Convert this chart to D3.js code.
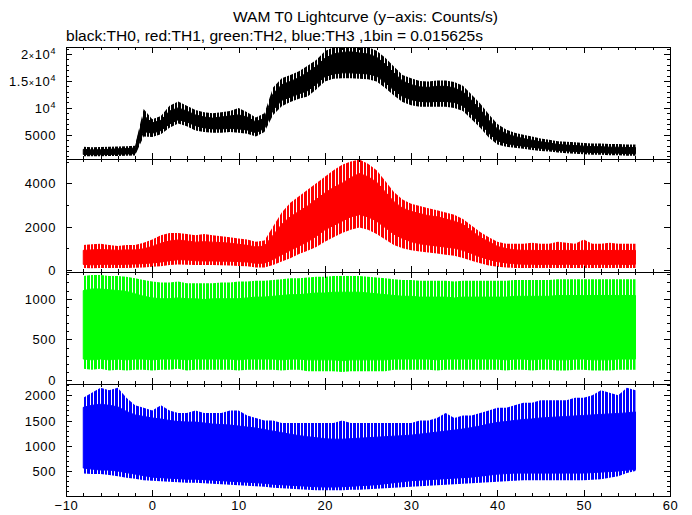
<!DOCTYPE html>
<html><head><meta charset="utf-8">
<script src="https://cdn.jsdelivr.net/npm/d3@7"></script>
<style>
body{margin:0;background:#fff;}
svg text{font-family:"Liberation Sans",Arial,Helvetica,sans-serif;fill:#000;}
</style>
</head><body>
<svg id="chart" width="692" height="515"></svg>
<script>
// ---- data: per-second envelopes of each light curve ----
// core = dense band, outer = extent reached by the noise spikes
const timeSec = [-8,-7,-6,-5,-4,-3,-2,-1,0,1,2,3,4,5,6,7,8,9,10,11,12,13,14,15,16,17,18,19,20,21,22,23,24,25,26,27,28,29,30,31,32,33,34,35,36,37,38,39,40,41,42,43,44,45,46,47,48,49,50,51,52,53,54,55,56];

const th0CoreLow  = [1350,1300,1300,1350,1400,1450,1500,5600,5300,5800,7000,7800,7400,6700,6300,6100,6100,6200,6100,5900,5400,6200,9600,11400,12000,12600,13200,14400,15800,16300,16500,16500,16400,16300,15900,14700,13300,12100,11500,11200,11100,11200,11200,11000,10400,8800,7200,5300,3900,3400,3100,2900,2700,2500,2300,2100,2000,1900,1800,1700,1700,1600,1600,1500,1500];
const th0CoreHigh = [2300,2200,2250,2300,2400,2450,2550,8600,7200,7700,9400,10000,9400,8700,8300,8100,8300,8500,8700,8300,7400,8100,12600,14300,14900,15600,16600,17700,19200,20000,20300,20400,20200,20000,19400,18100,16500,15000,14300,13900,13800,14000,14000,13700,13000,11400,9700,7700,6100,5200,4700,4300,4000,3700,3500,3200,3100,3000,2900,2800,2800,2700,2700,2650,2650];
const th0OuterLow  = [1000,1000,1000,1050,1050,1100,1150,4700,4600,5100,6300,7100,6600,5800,5500,5400,5400,5500,5400,5200,4700,5500,8700,10300,11100,11700,12100,13400,14900,15400,15500,15500,15400,15300,14900,13700,12300,11100,10500,10200,10200,10200,10200,10000,9400,7900,6300,4500,3200,2800,2600,2400,2200,2000,1900,1700,1600,1500,1400,1300,1300,1200,1200,1100,1100];
const th0OuterHigh = [2800,2700,2750,2800,2850,2900,2950,9800,7900,8500,10400,11200,10400,9600,9200,9000,9200,9400,10000,9200,8200,9000,13800,15500,16100,16800,17800,18900,20500,21300,21300,21300,21300,21300,20600,19300,17700,16100,15500,15000,14900,15100,15100,14800,14100,12500,10800,8800,7000,6000,5400,5000,4700,4300,4100,3800,3700,3600,3500,3400,3400,3300,3300,3200,3200];

const th1CoreLow  = [250,230,250,260,250,260,270,290,320,360,420,470,460,420,410,410,400,400,380,360,300,310,480,700,900,1100,1300,1550,1850,2050,2250,2450,2550,2450,2250,1950,1650,1450,1300,1200,1150,1100,1050,1000,900,750,600,480,380,320,280,260,260,250,260,250,260,250,260,250,260,250,260,250,260];
const th1CoreHigh = [900,920,940,920,900,920,920,970,1080,1230,1330,1380,1330,1280,1300,1280,1260,1230,1180,1130,1050,1100,1600,2100,2450,2700,2950,3250,3550,3800,4000,4250,4450,4300,4050,3600,3150,2850,2700,2600,2500,2450,2350,2250,2100,1800,1500,1300,1080,980,920,900,900,890,900,890,900,890,900,890,900,890,900,890,900];
const th1OuterLow  = [80,70,80,90,80,90,100,110,140,170,220,250,240,220,220,220,210,200,180,160,110,110,220,380,530,730,880,1050,1300,1500,1700,1850,1950,1850,1650,1400,1150,1000,900,850,800,750,700,650,550,420,300,200,140,110,90,80,80,80,80,80,80,80,80,80,80,80,80,80,80];
const th1OuterHigh = [1150,1180,1200,1150,1100,1150,1150,1250,1400,1600,1700,1700,1650,1600,1650,1600,1550,1500,1450,1400,1300,1350,2000,2650,3100,3400,3700,4000,4300,4600,4850,5000,5100,4900,4600,4100,3600,3250,3050,2950,2850,2750,2650,2550,2350,2050,1750,1500,1300,1200,1200,1200,1250,1200,1200,1300,1250,1200,1400,1200,1200,1250,1200,1200,1200];

const th2CoreLow  = [260,250,260,250,260,250,260,260,250,260,260,260,250,260,260,260,260,260,250,260,260,260,260,250,260,260,250,250,250,250,240,250,250,250,250,250,260,260,260,260,260,250,260,260,260,260,260,260,260,250,260,260,250,260,260,250,250,260,260,250,250,250,260,260,260];
const th2CoreHigh = [1100,1120,1120,1110,1100,1090,1060,1030,1010,1000,1000,1010,1000,1000,990,1000,1000,1000,1000,1010,1020,1020,1030,1040,1050,1050,1060,1070,1070,1080,1080,1080,1080,1070,1060,1050,1040,1030,1030,1020,1020,1020,1020,1010,1020,1020,1020,1020,1020,1020,1030,1030,1030,1030,1030,1040,1040,1040,1040,1040,1040,1040,1040,1040,1040];
const th2OuterLow  = [140,130,140,120,130,120,130,130,120,130,130,140,120,130,130,130,130,130,120,130,130,130,130,120,130,130,110,110,110,110,100,110,110,110,110,110,130,130,130,130,130,120,130,130,130,130,130,130,130,120,130,130,120,130,130,120,120,130,130,120,120,120,130,130,130];
const th2OuterHigh = [1280,1290,1290,1280,1280,1270,1250,1230,1210,1200,1200,1210,1190,1190,1190,1190,1200,1200,1210,1210,1220,1220,1230,1240,1250,1250,1260,1270,1270,1280,1280,1280,1280,1270,1260,1250,1240,1230,1230,1220,1220,1220,1220,1210,1220,1220,1220,1220,1220,1220,1230,1230,1230,1230,1230,1240,1240,1240,1240,1240,1240,1240,1240,1240,1240];

const th3CoreLow  = [560,540,520,520,500,470,440,410,380,370,360,350,340,340,330,320,310,300,290,280,270,260,240,230,220,210,200,190,185,185,190,200,210,220,230,250,270,290,310,320,330,340,350,360,370,380,400,420,440,450,460,460,460,460,460,460,460,460,460,470,480,490,500,520,530];
const th3CoreHigh = [1760,1800,1820,1800,1770,1680,1610,1580,1550,1530,1500,1480,1470,1470,1450,1430,1420,1410,1390,1370,1350,1320,1290,1260,1230,1200,1180,1160,1140,1130,1130,1140,1150,1160,1170,1180,1190,1200,1210,1230,1250,1270,1290,1310,1330,1360,1390,1430,1460,1480,1500,1520,1530,1550,1560,1570,1580,1590,1600,1610,1620,1630,1640,1650,1670];
const th3OuterLow  = [450,440,440,420,400,370,350,320,310,300,290,280,270,270,260,250,240,230,220,210,200,190,170,160,150,140,130,120,120,120,120,130,130,140,150,160,170,180,190,200,210,220,230,240,250,260,270,280,290,300,310,320,320,320,320,320,320,320,320,330,340,370,400,460,500];
const th3OuterHigh = [1950,2050,2150,2100,2150,1950,1800,1750,1700,1800,1700,1650,1650,1700,1650,1650,1650,1700,1700,1600,1550,1500,1500,1450,1450,1450,1450,1450,1450,1450,1500,1450,1450,1450,1450,1450,1450,1450,1450,1500,1500,1550,1650,1550,1600,1600,1650,1700,1750,1750,1800,1850,1850,1900,1900,1900,1900,1950,1950,2000,2100,2050,2000,2150,2100];

const xMajorTicks = [-10,0,10,20,30,40,50,60];
const xTickLabels = ["\u221210","0","10","20","30","40","50","60"];
const th0Ticks = [5000,10000,15000,20000];
const th0TickLabels = ["5000","10^4","1.5\u00d710^4","2\u00d710^4"];
const th1Ticks = [0,2000,4000];
const th1TickLabels = ["0","2000","4000"];
const th2Ticks = [0,500,1000];
const th2TickLabels = ["0","500","1000"];
const th3Ticks = [500,1000,1500,2000];
const th3TickLabels = ["500","1000","1500","2000"];

const titleText = "WAM T0 Lightcurve (y\u2212axis: Counts/s)";
const subtitleText = "black:TH0, red:TH1, green:TH2, blue:TH3 ,1bin = 0.015625s";

// ---- layout ----
const svg = d3.select("#chart");
const L = 66, R = 670;
const bounds = [47, 159, 272, 384, 496];

const x = d3.scaleLinear().domain([-10, 60]).range([L, R]);

const panels = [
  {cl: th0CoreLow, ch: th0CoreHigh, ol: th0OuterLow, oh: th0OuterHigh, color: "#000000", domain: [510, 21300], major: th0Ticks, labels: th0TickLabels, minorStep: 1000},
  {cl: th1CoreLow, ch: th1CoreHigh, ol: th1OuterLow, oh: th1OuterHigh, color: "#ff0000", domain: [-100, 5120], major: th1Ticks, labels: th1TickLabels, minorStep: 1000},
  {cl: th2CoreLow, ch: th2CoreHigh, ol: th2OuterLow, oh: th2OuterHigh, color: "#00ff00", domain: [-46, 1328], major: th2Ticks, labels: th2TickLabels, minorStep: 100},
  {cl: th3CoreLow, ch: th3CoreHigh, ol: th3OuterLow, oh: th3OuterHigh, color: "#0000ff", domain: [7, 2222], major: th3Ticks, labels: th3TickLabels, minorStep: 100}
];

const xMinor = [];
for (let v = -10; v <= 60; v += 2) if (v % 10 !== 0) xMinor.push(v);

const defs = svg.append("defs");

panels.forEach((p, i) => {
  const top = bounds[i], bot = bounds[i + 1];
  const y = d3.scaleLinear().domain(p.domain).range([bot, top]);
  const g = svg.append("g");

  defs.append("clipPath").attr("id", "clip" + i)
    .append("rect").attr("x", L).attr("y", top).attr("width", R - L).attr("height", bot - top);

  // dense vertical-stroke pattern for the ragged fringe of the noise band
  const pat = defs.append("pattern").attr("id", "spk" + i).attr("patternUnits", "userSpaceOnUse")
    .attr("width", 7).attr("height", 4);
  pat.append("rect").attr("x", 0).attr("y", 0).attr("width", 2).attr("height", 4).attr("fill", p.color);
  pat.append("rect").attr("x", 3).attr("y", 0).attr("width", 3).attr("height", 4).attr("fill", p.color);

  const pts = timeSec.map((t, k) => ({t, cl: p.cl[k], ch: p.ch[k], ol: p.ol[k], oh: p.oh[k]}));
  const outer = d3.area().x(d => x(d.t)).y0(d => y(d.ol)).y1(d => y(d.oh));
  const core = d3.area().x(d => x(d.t)).y0(d => y(d.cl)).y1(d => y(d.ch));
  const dg = g.append("g").attr("clip-path", "url(#clip" + i + ")");
  dg.append("path").datum(pts).attr("d", outer).attr("fill", "url(#spk" + i + ")");
  dg.append("path").datum(pts).attr("d", core).attr("fill", p.color).attr("stroke", p.color).attr("stroke-width", 1);

  // minor y ticks
  const yMinor = [];
  const d0 = Math.ceil(Math.min(...p.domain) / p.minorStep) * p.minorStep;
  for (let v = d0; v <= Math.max(...p.domain); v += p.minorStep) if (!p.major.includes(v)) yMinor.push(v);

  const mk = (axisFn, scale, vals, size, tx, ty) => {
    const a = g.append("g").attr("transform", `translate(${tx},${ty})`)
      .call(axisFn(scale).tickValues(vals).tickSize(-size).tickFormat(""));
    a.select(".domain").remove();
    a.selectAll("line").attr("stroke", "#000").attr("shape-rendering", "crispEdges");
  };
  mk(d3.axisBottom, x, xMajorTicks, 6, 0, bot);
  mk(d3.axisBottom, x, xMinor, 3, 0, bot);
  mk(d3.axisTop, x, xMajorTicks, 6, 0, top);
  mk(d3.axisTop, x, xMinor, 3, 0, top);
  mk(d3.axisLeft, y, p.major, 6, L, 0);
  mk(d3.axisLeft, y, yMinor, 3, L, 0);
  mk(d3.axisRight, y, p.major, 6, R, 0);
  mk(d3.axisRight, y, yMinor, 3, R, 0);

  // frame
  g.append("rect").attr("x", L).attr("y", top).attr("width", R - L).attr("height", bot - top)
    .attr("fill", "none").attr("stroke", "#000").attr("stroke-width", 1).attr("shape-rendering", "crispEdges");

  // y labels
  p.major.forEach((v, k) => {
    const lab = p.labels[k];
    const t = g.append("text").attr("x", 56).attr("y", y(v) + 5)
      .attr("text-anchor", "end").attr("font-size", 13).attr("letter-spacing", "0.6px");
    const m = lab.match(/^(.*?)(?:\u00d7)?10\^(\d+)$/);
    if (m) {
      if (m[1]) {
        t.append("tspan").text(m[1]);
        t.append("tspan").attr("font-size", 9).text("\u00d7");
      }
      t.append("tspan").text("10");
      t.append("tspan").attr("font-size", 9).attr("dy", -5).text(m[2]);
    } else {
      t.text(lab);
    }
  });
});

// x labels at bottom
const xl = svg.append("g").attr("transform", `translate(0,${bounds[4]})`)
  .call(d3.axisBottom(x).tickValues(xMajorTicks).tickSize(0).tickPadding(5)
    .tickFormat((d, k) => xTickLabels[k]));
xl.select(".domain").remove();
xl.selectAll("text").attr("font-size", 13).attr("letter-spacing", "0.6px")
  .attr("font-family", "'Liberation Sans',Arial,sans-serif").attr("fill", "#000");

// titles
svg.append("text").attr("x", 233).attr("y", 22).attr("font-size", 14)
  .attr("textLength", 265).attr("lengthAdjust", "spacingAndGlyphs").text(titleText);
svg.append("text").attr("x", 66).attr("y", 41).attr("font-size", 14)
  .attr("textLength", 417).attr("lengthAdjust", "spacingAndGlyphs").text(subtitleText);
</script>
</body></html>
